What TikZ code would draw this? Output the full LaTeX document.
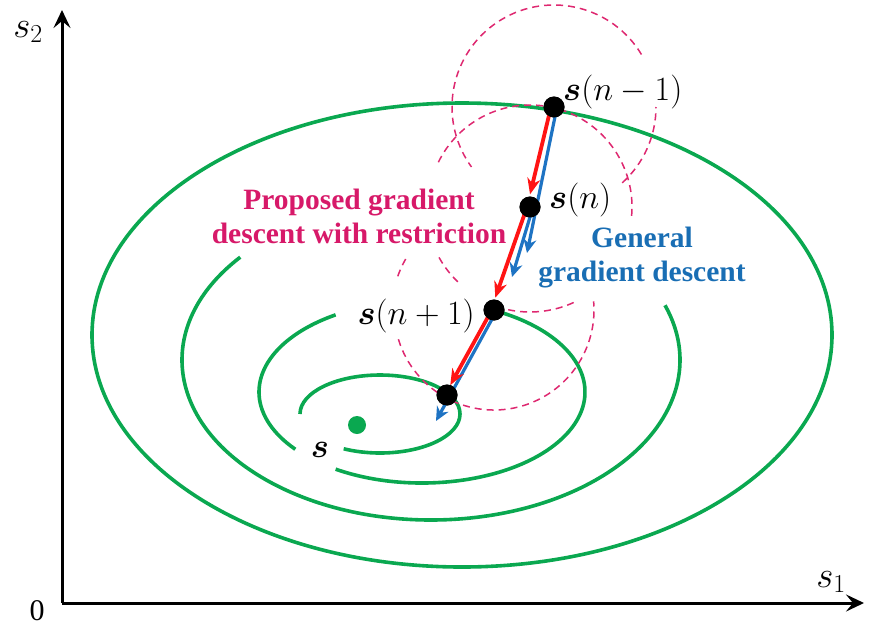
\RequirePackage{fix-cm}
\documentclass[tikz,border=0pt]{standalone}
\usepackage{fontspec}
\setmainfont{Liberation Serif}
\usepackage{bm}
\usetikzlibrary{arrows.meta}
\definecolor{cgreen}{RGB}{10,168,80}
\definecolor{cred}{RGB}{255,20,20}
\definecolor{cblue}{RGB}{30,115,195}
\definecolor{cmag}{RGB}{222,40,112}
\definecolor{tmag}{RGB}{215,25,105}
\definecolor{tblue}{RGB}{25,110,180}
\tikzset{
  contour/.style={draw=cgreen, line width=3.6pt},
  restr/.style={draw=cmag, line width=1.5pt, dash pattern=on 7pt off 5pt},
  dot/.style={circle, fill=black, minimum size=21pt, inner sep=0pt},
  gdot/.style={circle, fill=cgreen, minimum size=18pt, inner sep=0pt},
  redarr/.style={draw=cred, line width=3.8pt, -{Stealth[length=16pt,width=13pt]}, shorten >=13pt},
  bluearr/.style={draw=cblue, line width=3.2pt, -{Stealth[length=14pt,width=13pt]}},
  axisline/.style={line width=3pt, -{Stealth[length=18pt,width=17pt,inset=7pt]}},
  mlabel/.style={font=\fontsize{34}{38}\selectfont, inner sep=0pt},
  alabel/.style={font=\fontsize{37}{40}\selectfont, inner sep=0pt},
  tlabel/.style={font=\fontsize{29.5}{34}\selectfont\bfseries, align=center, inner sep=0pt}
}
\begin{document}
\begin{tikzpicture}[x=1pt,y=1pt]
\useasboundingbox (0,0) rectangle (869,-630);
% axes
\coordinate (O) at (62,-603);
\coordinate (ytop) at (62,-10);
\coordinate (xend) at (864,-603);
\draw[axisline] (O) -- (ytop);
\draw[axisline] (O) -- (xend);
\node[alabel, anchor=base] (ls2) at (28,-37) {$s_2$};
\node[alabel, anchor=base] (ls1) at (831,-587) {$s_1$};
\node[font=\fontsize{30}{32}\selectfont, anchor=base, inner sep=0pt] (lzero) at (37,-620) {0};
% contours
\draw[contour] (462,-335) ellipse[x radius=370, y radius=232];
\draw[contour] (431,-360) ++(140:249 and 160) arc[start angle=140, end angle=380, x radius=249, y radius=160];
\draw[contour] (422,-392) ++(122:163 and 91) arc[start angle=122, end angle=219, x radius=163, y radius=91];
\draw[contour] (422,-392) ++(238:163 and 91) arc[start angle=238, end angle=424, x radius=163, y radius=91];
\draw[contour] (380,-414) ++(180:80 and 39) arc[start angle=180, end angle=-117, x radius=80, y radius=39];
% points
\node[dot] (p0) at (554,-107) {};
\node[dot] (p1) at (530,-207) {};
\node[dot] (p2) at (494,-310) {};
\node[dot] (p3) at (447,-395) {};
\node[gdot] (opt) at (357,-425) {};
% restriction circles
\draw[restr] (p0.center) ++(-48:102) arc[start angle=-48, end angle=0, radius=102];
\draw[restr] (p0.center) ++(31:102) arc[start angle=31, end angle=216, radius=102];
\draw[restr] (p1.center) ++(-5:102) arc[start angle=-5, end angle=155, radius=102];
\draw[restr] (p1.center) ++(209:104) arc[start angle=209, end angle=226, radius=104];
\draw[restr] (p1.center) ++(258:105) arc[start angle=258, end angle=296, radius=105];
\draw[restr] (p2.center) ++(150:102) arc[start angle=150, end angle=163, radius=102];
\draw[restr] (p2.center) ++(197:100) arc[start angle=197, end angle=365, radius=100];
% general gradient descent (blue)
\coordinate (b0) at (527,-253);
\coordinate (b1) at (512,-277);
\coordinate (b2) at (436,-421);
\draw[bluearr] ([xshift=3pt]p0.center) -- (b0);
\draw[bluearr] ([xshift=3pt]p1.center) -- (b1);
\draw[bluearr] ([xshift=3pt]p2.center) -- (b2);
% proposed (red)
\draw[redarr] ([xshift=-3pt]p0.center) -- ([xshift=-3pt]p1.center);
\draw[redarr] ([xshift=-3pt]p1.center) -- ([xshift=-3pt]p2.center);
\draw[redarr] ([shift={(-3pt,-1.5pt)}]p2.center) -- ([shift={(-3pt,-1.5pt)}]p3.center);
% redraw dots on top
\foreach \p in {p0,p1,p2,p3} \fill (\p.center) circle (10.5pt);
% labels
\node[mlabel, anchor=west] (l0) at (563,-92) {$\bm{s}(n-1)$};
\node[mlabel, anchor=west] (l1) at (549,-200) {$\bm{s}(n)$};
\node[mlabel, anchor=east] (l2) at (475,-316) {$\bm{s}(n+1)$};
\node[mlabel, anchor=base] (lopt) at (320,-457) {$\bm{s}$};
\node[tlabel, text=tmag] (tprop) at (359,-216) {Proposed gradient\\descent with restriction};
\node[tlabel, text=tblue] (tgen) at (642,-258) {General\\gradient descent};
\end{tikzpicture}
\end{document}
